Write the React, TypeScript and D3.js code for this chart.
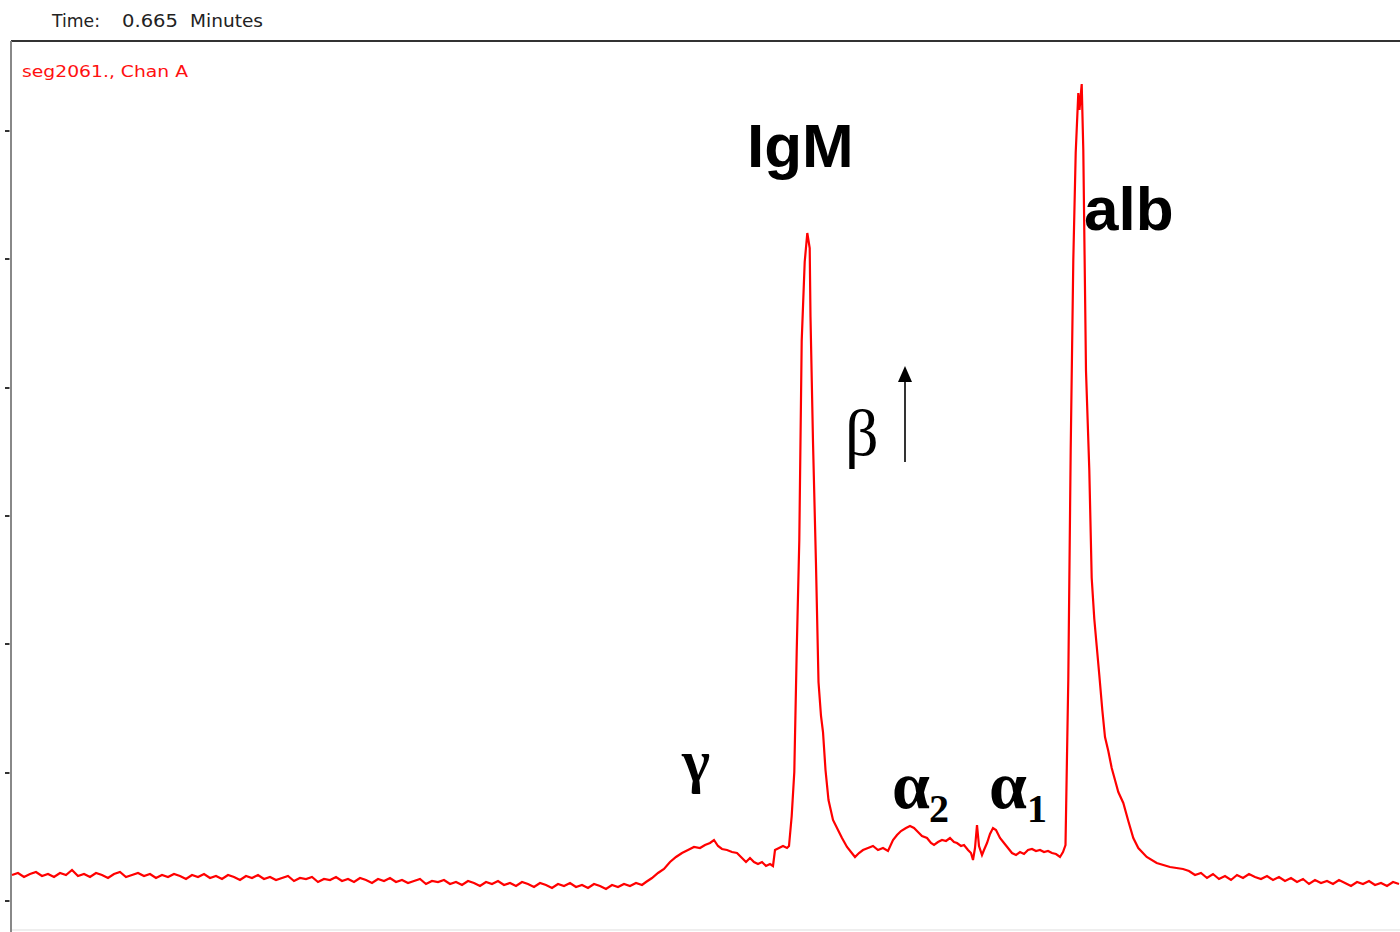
import React from "react";
import * as d3 from "d3";

// Electropherogram trace: t = run position (arbitrary units), v = detector signal (arbitrary units)
const baselineLeft: [number, number][] = [
  [0, 26], [6, 28], [12, 24], [18, 27], [24, 29], [30, 25], [36, 27], [42, 24], [48, 28], [54, 26],
  [60, 31], [66, 25], [72, 27], [78, 24], [84, 28], [90, 26], [96, 23], [102, 27], [108, 29], [114, 24],
  [120, 26], [126, 28], [132, 25], [138, 27], [144, 23], [150, 26], [156, 24], [162, 27], [168, 25], [174, 22],
  [180, 26], [186, 24], [192, 27], [198, 23], [204, 25], [210, 22], [216, 26], [222, 24], [228, 21], [234, 25],
  [240, 23], [246, 26], [252, 22], [258, 24], [264, 21], [270, 23], [276, 25], [282, 20], [288, 23], [294, 22],
  [300, 24], [306, 19], [312, 22], [318, 21], [324, 24], [330, 20], [336, 22], [342, 19], [348, 23], [354, 21],
  [360, 18], [366, 22], [372, 20], [378, 23], [384, 19], [390, 21], [396, 18], [402, 20], [408, 22], [414, 17],
  [420, 20], [426, 19], [432, 21], [438, 17], [444, 19], [450, 16], [456, 20], [462, 18], [468, 15], [474, 19],
  [480, 17], [486, 20], [492, 16], [498, 18], [504, 15], [510, 19], [516, 17], [522, 14], [528, 18], [534, 16],
  [540, 13], [546, 17], [552, 15], [558, 18], [564, 14], [570, 16], [576, 13], [582, 17], [588, 15], [594, 12],
  [600, 16], [606, 14], [612, 17], [618, 15], [624, 18], [630, 16],
];

const gammaRegion: [number, number][] = [
  [634, 19], [640, 23], [646, 28], [652, 32], [658, 39], [664, 44], [670, 48], [676, 51], [682, 54], [688, 53],
  [693, 56], [698, 58], [702, 61], [706, 55], [710, 52], [715, 51], [720, 49], [725, 48], [730, 43], [734, 39],
  [738, 43], [742, 39], [746, 37], [750, 39], [754, 35], [758, 37], [761, 35], [763, 51], [767, 53], [771, 55],
  [775, 53], [777, 55],
];

const igmPeak: [number, number][] = [
  [779.7, 85], [782.3, 129], [784.7, 249], [787.3, 361], [789.7, 560], [792.7, 639], [795.3, 668], [797.7, 653],
  [798.5, 584], [801, 459], [804, 336], [806.5, 219], [809, 185], [811, 169], [813.5, 131], [816.5, 101],
  [821, 81], [826, 71], [830, 63], [835, 54], [839, 49], [843, 44], [847, 48], [851, 51], [856, 53], [861, 55],
  [866, 51], [871, 53], [876, 50],
];

const alphaRegion: [number, number][] = [
  [881, 61], [885, 66], [889, 70], [894, 73], [898, 75], [902, 73], [906, 69], [910, 65], [915, 63], [919, 58],
  [922, 56], [926, 59], [930, 61], [934, 60], [938, 63], [942, 59], [945, 58], [949, 55], [952, 56], [956, 51],
  [959, 48], [961, 41], [963, 53], [965, 76], [967, 55], [970, 46], [972, 51], [975, 58], [978, 67], [981, 73],
  [984, 71], [988, 63], [992, 58], [996, 53], [1000, 48], [1004, 46], [1008, 49], [1012, 47], [1016, 51], [1020, 52],
  [1024, 50], [1028, 51], [1032, 49], [1036, 50], [1040, 48], [1044, 47], [1048, 44], [1051, 49], [1053.5, 56],
];

const albPeak: [number, number][] = [
  [1056.3, 222], [1058.7, 451], [1061.3, 641], [1063.7, 748], [1066.3, 808], [1067.5, 791], [1069.7, 817],
  [1071.3, 751], [1074, 530], [1077.3, 431], [1079.7, 323], [1082.3, 282], [1084.7, 255], [1087.3, 226],
  [1090.3, 191], [1093, 164], [1096.3, 150], [1099.7, 133], [1103, 121], [1106.3, 109], [1111.3, 98],
  [1116.3, 80], [1121.3, 63], [1126.3, 53], [1134.7, 44], [1144.7, 38], [1158, 34], [1171, 32],
];

const baselineRight: [number, number][] = [
  [1177, 30], [1183, 26], [1189, 28], [1195, 23], [1201, 27], [1207, 22], [1213, 25], [1219, 21], [1225, 26],
  [1231, 23], [1237, 27], [1243, 24], [1249, 22], [1255, 25], [1261, 21], [1267, 24], [1273, 20], [1279, 23],
  [1285, 19], [1291, 22], [1297, 17], [1303, 21], [1309, 18], [1315, 20], [1321, 17], [1327, 21], [1333, 18],
  [1339, 15], [1345, 19], [1351, 17], [1357, 20], [1363, 16], [1369, 18], [1375, 15], [1381, 19], [1387, 17],
];

const yTickValues = [0, 128, 257, 385, 513, 642, 770];

const headerParts = ["Time:", "0.665", "Minutes"];
const traceName = "seg2061., Chan A";

const W = 1400;
const H = 932;

export default function App() {
  const data = [
    ...baselineLeft,
    ...gammaRegion,
    ...igmPeak,
    ...alphaRegion,
    ...albPeak,
    ...baselineRight,
  ];

  const plotLeft = 12;
  const plotRight = 1400;
  const plotTop = 41;
  const plotBottom = 930;

  const x = d3.scaleLinear().domain([0, 1388]).range([plotLeft, plotRight]);
  const y = d3.scaleLinear().domain([0, 770]).range([901, 131]);

  const line = d3
    .line<[number, number]>()
    .x((d) => x(d[0]))
    .y((d) => y(d[1]));

  const pathD = line(data) || "";

  return (
    <div style={{ position: "absolute", left: 0, top: 0, width: W, height: H, background: "#fff" }}>
      <svg width={W} height={H} viewBox={`0 0 ${W} ${H}`} style={{ display: "block" }}>
        <rect x={0} y={0} width={W} height={H} fill="#fff" />
        {/* header */}
        <g fontFamily="'DejaVu Sans', 'Liberation Sans', sans-serif" fontSize={17} fill="#222">
          <text x={52} y={27} textLength={48} lengthAdjust="spacingAndGlyphs">{headerParts[0]}</text>
          <text x={122} y={27} textLength={56} lengthAdjust="spacingAndGlyphs">{headerParts[1]}</text>
          <text x={190} y={27} textLength={73} lengthAdjust="spacingAndGlyphs">{headerParts[2]}</text>
        </g>
        {/* frame */}
        <line x1={plotLeft - 1} x2={plotRight} y1={plotTop} y2={plotTop} stroke="#333" strokeWidth={2} />
        <line x1={plotLeft - 1} x2={plotLeft - 1} y1={plotTop} y2={H} stroke="#888" strokeWidth={2} />
        <line x1={plotLeft} x2={plotRight} y1={plotBottom} y2={plotBottom} stroke="#ddd" strokeWidth={1} />
        {/* y ticks */}
        {yTickValues.map((t) => (
          <line key={t} x1={5} x2={9.5} y1={y(t)} y2={y(t)} stroke="#333" strokeWidth={2} />
        ))}
        {/* trace label */}
        <text
          x={22}
          y={77}
          fontFamily="'DejaVu Sans', 'Liberation Sans', sans-serif"
          fontSize={16}
          fill="#ff1010"
          textLength={166}
          lengthAdjust="spacingAndGlyphs"
        >
          {traceName}
        </text>
        {/* trace */}
        <path d={pathD} fill="none" stroke="#ff0000" strokeWidth={2.2} strokeLinejoin="miter" />
        {/* annotations */}
        <g fontFamily="'Liberation Sans', Arial, sans-serif" fontWeight="bold" fontSize={62} fill="#000">
          <text x={747} y={167}>IgM</text>
          <text x={1084} y={230}>alb</text>
        </g>
        <g fontFamily="'Liberation Serif', 'Times New Roman', serif" fill="#000">
          <text x={845} y={455} fontSize={66}>β</text>
          <text x={682} y={781} fontSize={60} fontWeight="bold">γ</text>
          <text x={892} y={808} fontSize={68} fontWeight="bold">α</text>
          <text x={929} y={822} fontSize={40} fontWeight="bold">2</text>
          <text x={989} y={808} fontSize={68} fontWeight="bold">α</text>
          <text x={1027} y={822} fontSize={40} fontWeight="bold">1</text>
        </g>
        <line x1={905} x2={905} y1={462} y2={378} stroke="#000" strokeWidth={1.6} />
        <path d="M898,382 L905,366 L912,382 Z" fill="#000" />
      </svg>
    </div>
  );
}
